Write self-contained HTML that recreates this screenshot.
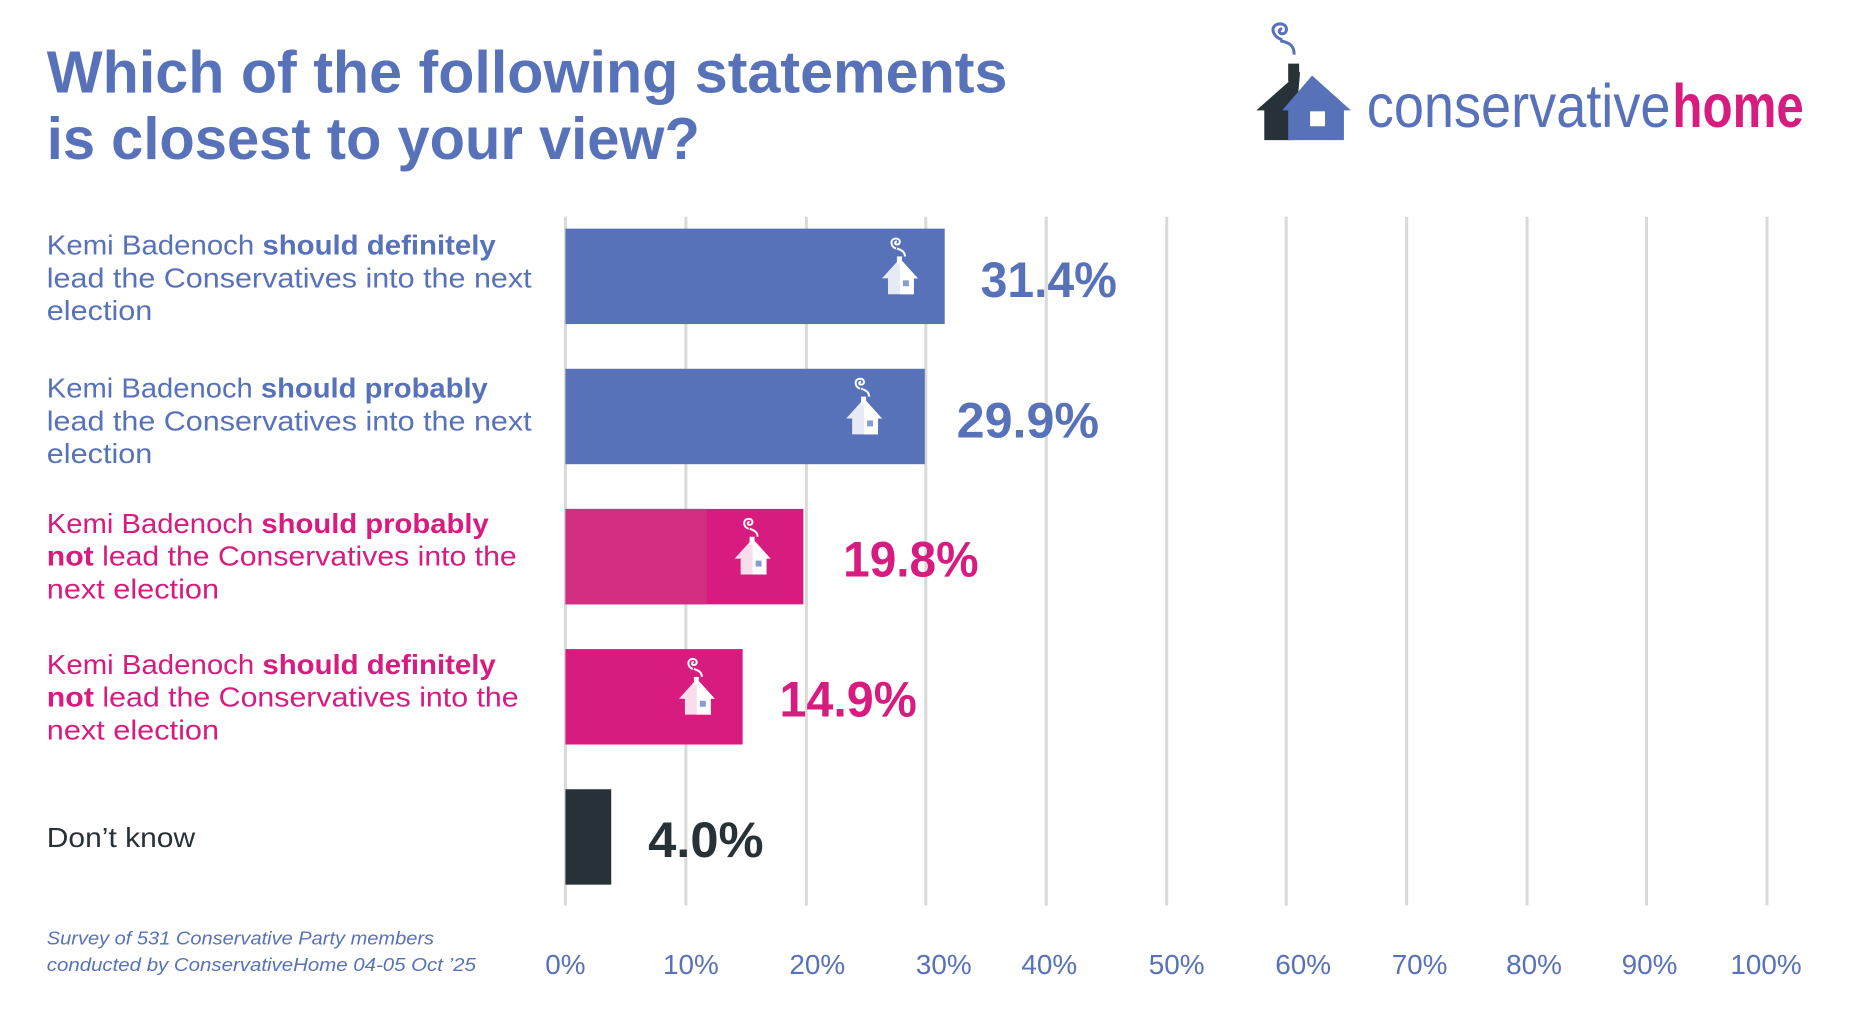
<!DOCTYPE html>
<html><head><meta charset="utf-8"><style>
html,body{margin:0;padding:0;background:#fff;}
svg{display:block;font-family:"Liberation Sans",sans-serif;}
</style></head><body>
<svg width="1863" height="1024" viewBox="0 0 1863 1024" xmlns="http://www.w3.org/2000/svg">
<defs>
<g id="hi">
  <path d="M-4,-30 c-6,-2 -6,-10 0,-10 c5,0 5,6 1,6 c-3,0 -2,-3 0,-3 M-3,-30 c6,2 8,4 8,8" fill="none" stroke="#fff" stroke-width="2"/>
  <rect x="-3" y="-22" width="5" height="8" fill="#fff"/>
  <path d="M-18,0 L0,-20 L18,0 L14,0 L14,16 L-12,16 L-12,0 Z" fill="#fff" opacity="0.85"/>
  <path d="M0,-20 L18,0 L14,0 L14,16 L0,16 Z" fill="#fff"/>
  <rect x="3" y="2" width="6" height="6" fill="#5872ba" opacity="0.7"/>
</g>
</defs>
<g transform="scale(0.9955,0.994)">
<!-- title -->
<text x="47" y="93" font-size="60" font-weight="bold" fill="#5872ba" textLength="965" lengthAdjust="spacingAndGlyphs">Which of the following statements</text>
<text x="47" y="160" font-size="60" font-weight="bold" fill="#5872ba" textLength="656" lengthAdjust="spacingAndGlyphs">is closest to your view?</text>
<!-- logo -->
<path d="M1288,40 c-12,-4 -12,-16 -2,-16 c8,0 8,10 2,10 c-4,0 -4,-5 0,-5 M1286,41 c10,2 14,5 14,14" fill="none" stroke="#5872ba" stroke-width="3"/>
<rect x="1294" y="64" width="11" height="18" fill="#263238"/>
<path d="M1262,111 L1306,72 L1300,141 L1270,141 L1270,111 Z" fill="#263238"/>
<path d="M1288,111 L1318,76 L1357,111 L1350,111 L1350,141 L1294,141 L1294,111 Z" fill="#5872ba"/>
<rect x="1316" y="112" width="15" height="15" fill="#fff"/>
<text x="1373" y="128" font-size="62" fill="#5872ba" textLength="305" lengthAdjust="spacingAndGlyphs">conservative</text>
<text x="1680" y="128" font-size="62" font-weight="bold" fill="#d81b7f" textLength="132" lengthAdjust="spacingAndGlyphs">home</text>
<!-- grid -->
<g stroke="#d9d9d9" stroke-width="3">
<line x1="568" y1="218" x2="568" y2="911"/><line x1="689" y1="218" x2="689" y2="911"/><line x1="810" y1="218" x2="810" y2="911"/><line x1="930" y1="218" x2="930" y2="911"/><line x1="1051" y1="218" x2="1051" y2="911"/><line x1="1172" y1="218" x2="1172" y2="911"/><line x1="1292" y1="218" x2="1292" y2="911"/><line x1="1413" y1="218" x2="1413" y2="911"/><line x1="1534" y1="218" x2="1534" y2="911"/><line x1="1654" y1="218" x2="1654" y2="911"/><line x1="1775" y1="218" x2="1775" y2="911"/>
</g>
<!-- bars -->
<rect x="568" y="230" width="381" height="96" fill="#5872ba"/>
<rect x="568" y="371" width="361" height="96" fill="#5872ba"/>
<rect x="568" y="512" width="239" height="96" fill="#d81b7f"/>
<rect x="568" y="512" width="142" height="96" fill="#d22f83"/>
<rect x="568" y="653" width="178" height="96" fill="#d81b7f"/>
<rect x="568" y="794" width="46" height="96" fill="#263238"/>
<use href="#hi" x="904" y="280"/>
<use href="#hi" x="868" y="421"/>
<use href="#hi" x="756" y="562"/>
<use href="#hi" x="700" y="703"/>
<!-- values -->
<g font-size="50" font-weight="bold">
<text x="985" y="299" fill="#5872ba" textLength="137" lengthAdjust="spacingAndGlyphs">31.4%</text>
<text x="961" y="440" fill="#5872ba" textLength="143" lengthAdjust="spacingAndGlyphs">29.9%</text>
<text x="847" y="580" fill="#d81b7f" textLength="136" lengthAdjust="spacingAndGlyphs">19.8%</text>
<text x="783" y="721" fill="#d81b7f" textLength="138" lengthAdjust="spacingAndGlyphs">14.9%</text>
<text x="651" y="862" fill="#263238" textLength="116" lengthAdjust="spacingAndGlyphs">4.0%</text>
</g>
<!-- category labels -->
<g font-size="28">
<text x="47" y="256" fill="#5872ba" textLength="451" lengthAdjust="spacingAndGlyphs">Kemi Badenoch <tspan font-weight="bold">should definitely</tspan></text>
<text x="47" y="289" fill="#5872ba" textLength="487" lengthAdjust="spacingAndGlyphs">lead the Conservatives into the next</text>
<text x="47" y="322" fill="#5872ba" textLength="106" lengthAdjust="spacingAndGlyphs">election</text>
<text x="47" y="400" fill="#5872ba" textLength="443" lengthAdjust="spacingAndGlyphs">Kemi Badenoch <tspan font-weight="bold">should probably</tspan></text>
<text x="47" y="433" fill="#5872ba" textLength="487" lengthAdjust="spacingAndGlyphs">lead the Conservatives into the next</text>
<text x="47" y="466" fill="#5872ba" textLength="106" lengthAdjust="spacingAndGlyphs">election</text>
<text x="47" y="536" fill="#d81b7f" textLength="444" lengthAdjust="spacingAndGlyphs">Kemi Badenoch <tspan font-weight="bold">should probably</tspan></text>
<text x="47" y="569" fill="#d81b7f" textLength="472" lengthAdjust="spacingAndGlyphs"><tspan font-weight="bold">not</tspan> lead the Conservatives into the</text>
<text x="47" y="602" fill="#d81b7f" textLength="173" lengthAdjust="spacingAndGlyphs">next election</text>
<text x="47" y="678" fill="#d81b7f" textLength="451" lengthAdjust="spacingAndGlyphs">Kemi Badenoch <tspan font-weight="bold">should definitely</tspan></text>
<text x="47" y="711" fill="#d81b7f" textLength="474" lengthAdjust="spacingAndGlyphs"><tspan font-weight="bold">not</tspan> lead the Conservatives into the</text>
<text x="47" y="744" fill="#d81b7f" textLength="173" lengthAdjust="spacingAndGlyphs">next election</text>
<text x="47" y="852" fill="#263238" textLength="149" lengthAdjust="spacingAndGlyphs">Don’t know</text>
</g>
<!-- footnote -->
<g font-size="19" font-style="italic" fill="#5872ba">
<text x="47" y="950" textLength="389" lengthAdjust="spacingAndGlyphs">Survey of 531 Conservative Party members</text>
<text x="47" y="977" textLength="431" lengthAdjust="spacingAndGlyphs">conducted by ConservativeHome 04-05 Oct ’25</text>
</g>
<!-- axis -->
<g font-size="28" fill="#5872ba" text-anchor="middle">
<text x="568" y="980">0%</text><text x="694" y="980">10%</text><text x="821" y="980">20%</text><text x="948" y="980">30%</text><text x="1054" y="980">40%</text><text x="1182" y="980">50%</text><text x="1309" y="980">60%</text><text x="1426" y="980">70%</text><text x="1541" y="980">80%</text><text x="1657" y="980">90%</text><text x="1774" y="980">100%</text>
</g>
</g>
</svg>
</body></html>
